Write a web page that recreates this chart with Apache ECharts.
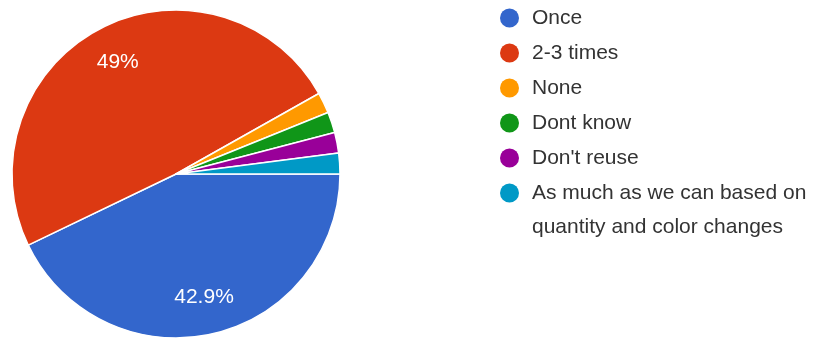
<!DOCTYPE html>
<html>
<head>
<meta charset="utf-8">
<script src="https://cdn.jsdelivr.net/npm/echarts@6/dist/echarts.min.js"></script>
<style>
html,body{margin:0;padding:0;background:#fff;}
#chart{width:823px;height:342px;}
</style>
</head>
<body>
<div id="chart"></div>
<script>
const categories = ['Once', '2-3 times', 'None', 'Dont know', "Don't reuse", 'As much as we can based on quantity and color changes'];
const values = [21, 24, 1, 1, 1, 1];
const colors = ['#3366cc', '#dc3912', '#ff9900', '#109618', '#990099', '#0099c6'];

const total = values.reduce((a, b) => a + b, 0);
const seriesData = categories.map((name, i) => ({ name: name, value: values[i], itemStyle: { color: colors[i] } }));

const FONT = "'Liberation Sans', Arial, sans-serif";
const LH = 34;
const FS = 21;
const rich = {
  t: { fontSize: FS, fontFamily: FONT, color: '#333', lineHeight: LH, verticalAlign: 'middle' },
  s: { width: 13, lineHeight: LH },
  s2: { width: 32, lineHeight: LH }
};
colors.forEach((c, i) => {
  rich['d' + i] = { width: 19, height: 19, borderRadius: 9.5, backgroundColor: c, lineHeight: LH, verticalAlign: 'middle' };
});

function wrap(text, maxChars) {
  const words = text.split(' ');
  const lines = [];
  let cur = '';
  words.forEach(w => {
    if (cur && (cur + ' ' + w).length > maxChars) { lines.push(cur); cur = w; }
    else cur = cur ? cur + ' ' + w : w;
  });
  if (cur) lines.push(cur);
  return lines;
}

const chart = echarts.init(document.getElementById('chart'), null, { renderer: 'canvas' });
chart.setOption({
  animation: false,
  backgroundColor: '#fff',
  legend: {
    orient: 'vertical',
    left: 494,
    top: 1,
    padding: 0,
    itemGap: 1,
    itemWidth: 1,
    itemHeight: 1,
    icon: 'rect',
    itemStyle: { color: 'rgba(0,0,0,0)', borderWidth: 0, opacity: 0 },
    data: categories,
    selectedMode: false,
    textStyle: { fontSize: FS, fontFamily: FONT, color: '#333', lineHeight: LH, rich: rich },
    formatter: function (name) {
      const i = categories.indexOf(name);
      const lines = wrap(name, 27);
      let s = '{d' + i + '|}{s|}{t|' + lines[0] + '}';
      for (let k = 1; k < lines.length; k++) s += '\n{s2|}{t|' + lines[k] + '}';
      return s;
    }
  },
  series: [
    {
      type: 'pie',
      center: [176, 174],
      radius: [0, 164],
      startAngle: 0,
      clockwise: true,
      avoidLabelOverlap: false,
      silent: true,
      label: { show: false },
      labelLine: { show: false },
      itemStyle: { borderColor: '#fff', borderWidth: 1.5 },
      data: seriesData
    },
    {
      type: 'pie',
      center: [176, 174],
      radius: [82, 164],
      startAngle: 0,
      clockwise: true,
      avoidLabelOverlap: false,
      silent: true,
      itemStyle: { color: 'rgba(0,0,0,0)', borderWidth: 0 },
      labelLine: { show: false },
      label: {
        show: true,
        position: 'inside',
        color: '#fff',
        fontSize: FS,
        fontFamily: FONT,
        formatter: function (p) {
          const pct = p.value / total * 100;
          if (pct < 5) return '';
          return (Math.round(pct * 10) / 10) + '%';
        }
      },
      data: categories.map((name, i) => ({ name: name, value: values[i] }))
    }
  ]
});
</script>
</body>
</html>
